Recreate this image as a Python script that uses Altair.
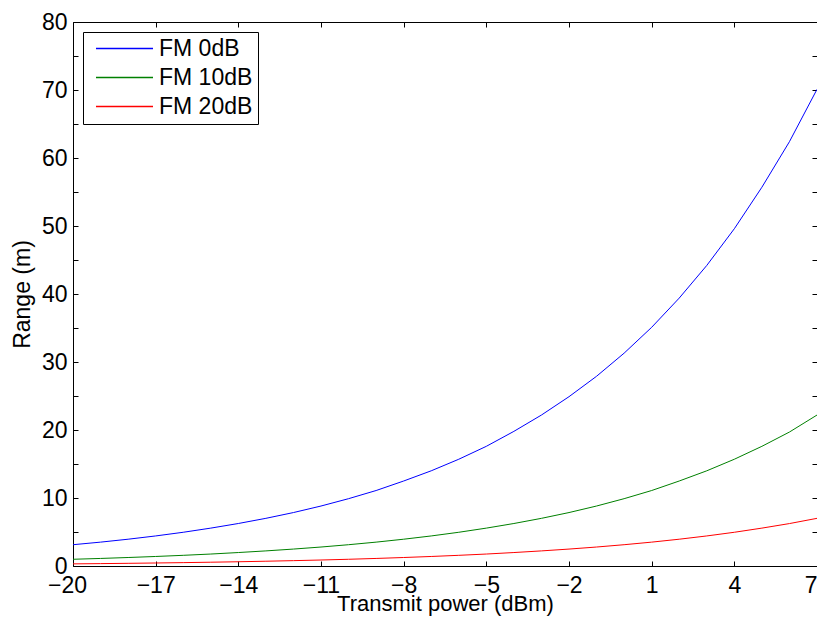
import altair as alt
import pandas as pd

power = list(range(-20, 8))
fm0 = [3.13, 3.51, 3.94, 4.42, 4.96, 5.57, 6.25, 7.01, 7.86, 8.82, 9.90, 11.1, 12.5, 14.0,
       15.7, 17.6, 19.8, 22.2, 24.9, 27.9, 31.3, 35.1, 39.4, 44.2, 49.6, 55.7, 62.4, 70.1]
fm10 = [0.99, 1.11, 1.25, 1.40, 1.57, 1.76, 1.98, 2.22, 2.49, 2.79, 3.13, 3.51, 3.94, 4.42,
        4.96, 5.57, 6.25, 7.01, 7.86, 8.82, 9.90, 11.1, 12.5, 14.0, 15.7, 17.6, 19.7, 22.2]
fm20 = [0.313, 0.351, 0.394, 0.442, 0.496, 0.557, 0.625, 0.701, 0.786, 0.882, 0.990, 1.11,
        1.25, 1.40, 1.57, 1.76, 1.98, 2.22, 2.49, 2.79, 3.13, 3.51, 3.94, 4.42, 4.96, 5.57,
        6.24, 7.01]
series_names = ["FM 0dB", "FM 10dB", "FM 20dB"]
series_colors = ["#0000FF", "#008000", "#FF0000"]
x_ticks = [-20, -17, -14, -11, -8, -5, -2, 1, 4, 7]
y_ticks = list(range(0, 85, 5))

rows = []
for name, vals in zip(series_names, [fm0, fm10, fm20]):
    for p, v in zip(power, vals):
        rows.append({"power": p, "range": v, "series": name})
df = pd.DataFrame(rows)

FONT = "Liberation Sans"
FS = 23
xscale = alt.Scale(domain=[-20, 7], nice=False, zero=False)
yscale = alt.Scale(domain=[0, 80], nice=False)

lines = alt.Chart(df).mark_line(strokeWidth=1, clip=True).encode(
    x=alt.X("power:Q", scale=xscale, title="Transmit power (dBm)",
            axis=alt.Axis(values=x_ticks, orient="bottom", offset=-5, tickSize=5,
                          domain=False, grid=False, labelPadding=8,
                          labelFontSize=FS, titleFontSize=22, labelFont=FONT,
                          titleFont=FONT, titleFontWeight="normal", labelColor="black",
                          titleColor="black", tickColor="black", titlePadding=-4,
                          labelFlush=False,
                          labelAlign={"condition": {"test": "datum.value == 7", "value": "right"},
                                      "value": "center"},
                          labelOffset={"condition": {"test": "datum.value == -20", "value": -6},
                                       "value": 0},
                          labelExpr="replace(datum.label, '-', '\u2013')")),
    y=alt.Y("range:Q", scale=yscale, title="Range (m)",
            axis=alt.Axis(values=y_ticks, orient="left", offset=-5, tickSize=5,
                          domain=False, grid=False, labelPadding=6,
                          labelFontSize=FS, titleFontSize=FS, labelFont=FONT,
                          titleFont=FONT, titleFontWeight="normal", labelColor="black",
                          titleColor="black", tickColor="black", titlePadding=7,
                          labelFlush=False,
                          labelExpr="datum.value % 10 == 0 ? datum.label : ''")),
    color=alt.Color("series:N", sort=series_names,
                    scale=alt.Scale(domain=series_names, range=series_colors),
                    legend=alt.Legend(title=None, orient="none", legendX=10, legendY=10,
                                      symbolType="stroke", symbolSize=3250,
                                      symbolStrokeWidth=1.3, labelFontSize=FS,
                                      labelFont=FONT, labelColor="black",
                                      strokeColor="black", fillColor="white",
                                      clipHeight=FS, padding=5, rowPadding=5,
                                      labelOffset=5, symbolOffset=7)),
)

frame = alt.Chart(df).mark_line(opacity=0).encode(
    x=alt.X("power:Q", scale=xscale, title=None,
            axis=alt.Axis(values=x_ticks, orient="top", offset=-5, tickSize=5,
                          domain=False, grid=False, labels=False, tickColor="black")),
    y=alt.Y("range:Q", scale=yscale, title=None,
            axis=alt.Axis(values=y_ticks, orient="right", offset=-5, tickSize=5,
                          domain=False, grid=False, labels=False, tickColor="black")),
)

chart = alt.layer(lines, frame).resolve_axis(x="independent", y="independent").properties(
    width=744, height=544,
    background="white",
    autosize=alt.AutoSizeParams(type="none"),
    padding={"left": 65, "top": 14, "right": 0, "bottom": 50},
).configure_view(stroke="black", strokeWidth=1)

chart.save("out.html", embed_options={"renderer": "svg", "actions": False})
